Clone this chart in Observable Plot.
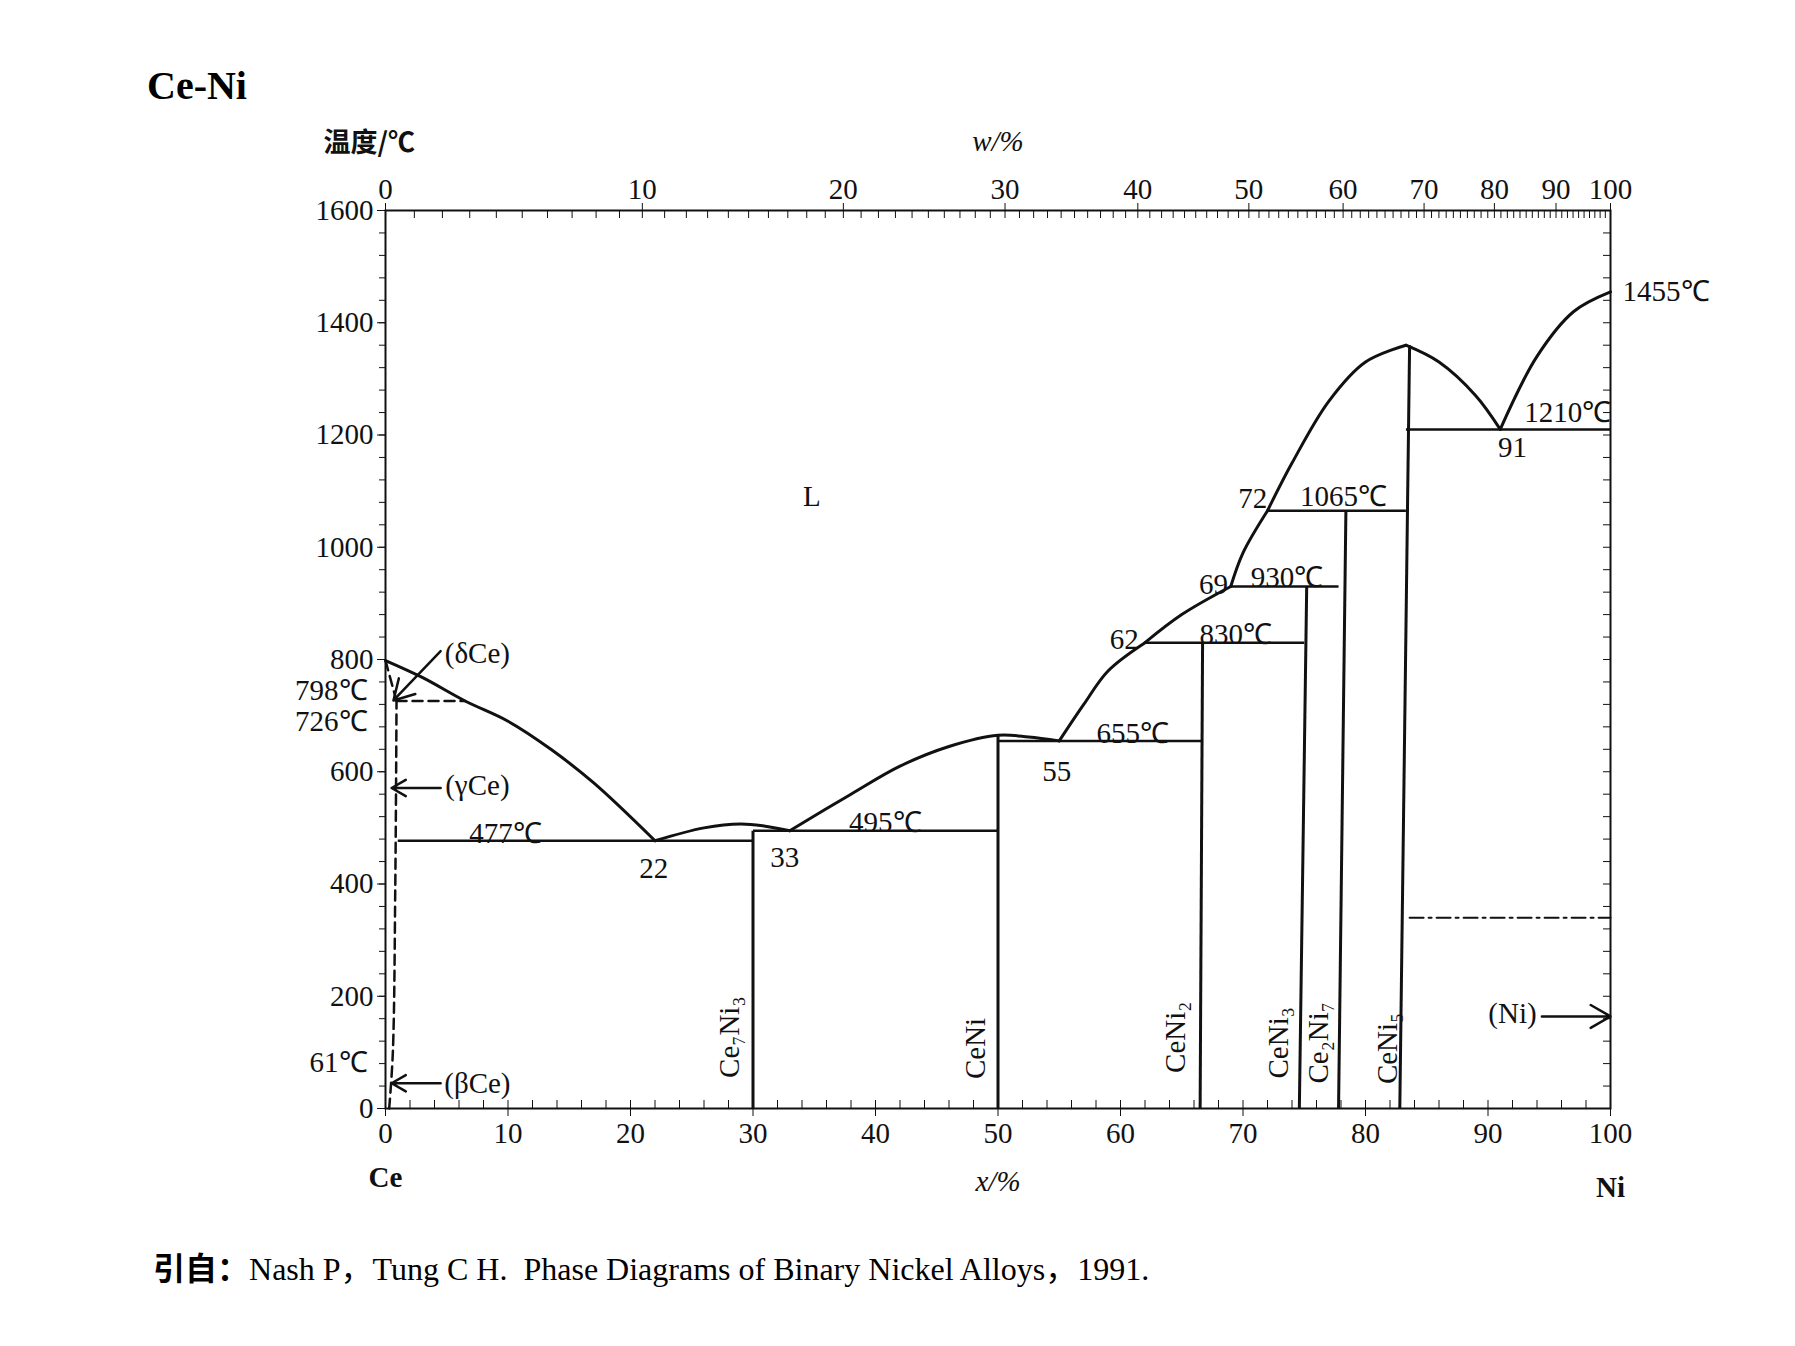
<!DOCTYPE html>
<html>
<head>
<meta charset="utf-8">
<script src="https://cdn.jsdelivr.net/npm/d3@7"></script>
<script src="https://cdn.jsdelivr.net/npm/@observablehq/plot@0.6"></script>
<style>
  body { margin: 0; background: #fff; font-family: "Liberation Serif", "Noto Sans CJK SC", serif; }
  #title { height: 110px; position: relative; }
  #title span { position: absolute; left: 147px; top: 62px; font-weight: bold; font-size: 40px; }
  #caption { position: relative; height: 80px; }
  #caption span { position: absolute; left: 153px; top: 25px; font-size: 32px; }
</style>
</head>
<body>
<div id="title"><span>Ce-Ni</span></div>
<div id="chart"></div>
<div id="caption"><span><b style="font-family:'Noto Sans CJK SC'">引自：</b>Nash P，Tung C H.&nbsp; Phase Diagrams of Binary Nickel Alloys，1991.</span></div>
<script>
/* liquidus, segment par segment (x at.% Ni, T °C) */
const liquidus = [
  [[0,798],[3,768],[6.5,726],[10,690],[13.5,640],[17,580],[22,477]],
  [[22,477],[26,500],[29,507],[31,503],[33,495]],
  [[33,495],[38,560],[42,610],[46,645],[50,665],[52.5,662],[55,655]],
  [[55,655],[57,720],[59,780],[62,830]],
  [[62,830],[65,880],[69,930]],
  [[69,930],[70,990],[72,1065]],
  [[72,1065],[74,1150],[77,1260],[80,1330],[83.3,1360]],
  [[83.3,1360],[86,1330],[89,1270],[91,1210]],
  [[91,1210],[94,1340],[97,1420],[100,1455]]
]
// horizontales : [x1, x2, T]
const isothermes = [[1,30,477],[30,50,495],[50,66.7,655],[62,75,830],[69,77.8,930],[72,83.3,1065],[83.3,100,1210]]
// composés : [x bas, x haut, T haut]
const composes = [[30,30,495],[50,50,665],[66.5,66.7,830],[74.6,75.2,930],[77.8,78.4,1065],[82.8,83.6,1360]]
const nomsComposes = ["Ce₇Ni₃","CeNi","CeNi₂","CeNi₃","Ce₂Ni₇","CeNi₅"]
const xNoms = [28.1,48.2,64.5,72.9,76.2,81.8]
const yNoms = [127,107,127,117,117,107]
const solvusCe = [[0,798],[0.9,726]]
const betaGamma = [[0.3,0],[0.6,100],[0.8,400],[0.9,726]]
const palier726 = [[0.9,726],[6.5,726]]
const magnetique = [[83.6,340],[100,340]]

const etiquettes = [
  {x:96.5,y:1240,t:"1210℃"},{x:92,y:1178,t:"91"},
  {x:70.8,y:1086,t:"72"},{x:78.2,y:1090,t:"1065℃"},
  {x:67.6,y:934,t:"69"},{x:73.6,y:946,t:"930℃"},
  {x:60.3,y:836,t:"62"},{x:69.4,y:844,t:"830℃"},
  {x:61,y:667,t:"655℃"},{x:54.8,y:600,t:"55"},
  {x:40.8,y:509,t:"495℃"},{x:32.6,y:446,t:"33"},
  {x:21.9,y:427,t:"22"},{x:9.8,y:489,t:"477℃"},
  {x:34.8,y:1090,t:"L"},
  {x:7.5,y:811,t:"(δCe)"},{x:7.5,y:575,t:"(γCe)"},{x:7.5,y:45,t:"(βCe)"},{x:92,y:168,t:"(Ni)"}
]
const etiquettesGauche = [{y:745,t:"798℃"},{y:690,t:"726℃"},{y:82,t:"61℃"}]
const fleches = [
  {x1:4.5,y1:815,x2:0.65,y2:727},{x1:4.5,y1:571,x2:0.5,y2:571},
  {x1:4.5,y1:45,x2:0.5,y2:45},{x1:94.4,y1:164,x2:100,y2:164}
]
const ticksT = [0,200,400,600,800,1000,1200,1400,1600]
const ticksX = [0,10,20,30,40,50,60,70,80,90,100]
const ticksW = [0,10,20,30,40,50,60,70,80,90,100]

// conversion w% -> x% (masses atomiques Ce 140.12, Ni 58.69)
const wToX = w => w >= 100 ? 100 : 100 * (w / 58.69) / (w / 58.69 + (100 - w) / 140.12)

const lignes = liquidus.flatMap((seg, i) => seg.map(([x, y]) => ({x, y, i})))
const font = "Liberation Serif"

const chart = Plot.plot({
  width: 1795, height: 1108,
  marginLeft: 385, marginRight: 185, marginTop: 100, marginBottom: 110,
  style: {fontFamily: font, fontSize: "29px", color: "#111"},
  x: {domain: [0, 100]},
  y: {domain: [0, 1600]},
  marks: [
    Plot.frame({strokeWidth: 2}),
    Plot.axisY({ticks: ticksT, tickFormat: "d", tickSize: 8, label: null, tickPadding: 4, fontSize: 29}),
    Plot.axisY({ticks: d3.range(0, 1601, 40), tickSize: 6, text: null}),
    Plot.axisY({anchor: "right", ticks: d3.range(0, 1601, 40), tickSize: -8, text: null}),
    Plot.axisX({ticks: ticksX, tickSize: 8, label: null, tickPadding: 6, fontSize: 29}),
    Plot.axisX({ticks: d3.range(0, 101, 2), tickSize: -8, text: null}),
    Plot.axisX({anchor: "top", ticks: ticksW.map(wToX), tickFormat: (d, i) => ticksW[i], tickSize: 8, label: null, tickPadding: 4, fontSize: 29}),
    Plot.axisX({anchor: "top", ticks: d3.range(0, 100, 1).map(wToX), tickSize: -7, text: null}),
    Plot.line(lignes, {x: "x", y: "y", z: "i", curve: "catmull-rom", strokeWidth: 3}),
    Plot.link(isothermes, {x1: d => d[0], x2: d => d[1], y1: d => d[2], y2: d => d[2], strokeWidth: 2.5}),
    Plot.link(composes, {x1: d => d[0], x2: d => d[1], y1: 0, y2: d => d[2], strokeWidth: 3}),
    Plot.line(solvusCe, {strokeWidth: 2.5, strokeDasharray: "10,6"}),
    Plot.line(betaGamma, {curve: "catmull-rom", strokeWidth: 2.5, strokeDasharray: "10,6"}),
    Plot.line(palier726, {strokeWidth: 2.5, strokeDasharray: "10,6"}),
    Plot.line(magnetique, {strokeWidth: 2, strokeDasharray: "14,5,3,5"}),
    Plot.arrow(fleches, {x1: "x1", y1: "y1", x2: "x2", y2: "y2", strokeWidth: 2.5, headLength: 16}),
    Plot.text(etiquettes, {x: "x", y: "y", text: "t", fontSize: 29}),
    Plot.text(etiquettesGauche, {x: 0, y: "y", text: "t", textAnchor: "end", dx: -18, fontSize: 29}),
    Plot.text(["1455℃"], {x: 100, y: 1455, textAnchor: "start", dx: 12, fontSize: 29}),
    Plot.text(nomsComposes, {x: (d, i) => xNoms[i], y: (d, i) => yNoms[i], text: d => d, rotate: -90, fontSize: 29}),
    Plot.text(["温度/℃"], {frameAnchor: "top-left", dx: -62, dy: -78, fontFamily: "Noto Sans CJK SC", fontWeight: "bold", fontSize: 27}),
    Plot.text(["w/%"], {x: 50, frameAnchor: "top", dy: -80, fontStyle: "italic", fontSize: 29}),
    Plot.text(["x/%"], {x: 50, frameAnchor: "bottom", dy: 82, fontStyle: "italic", fontSize: 29}),
    Plot.text(["Ce"], {x: 0, frameAnchor: "bottom", dy: 78, fontWeight: "bold", fontSize: 29}),
    Plot.text(["Ni"], {x: 100, frameAnchor: "bottom", dy: 88, fontWeight: "bold", fontSize: 29})
  ]
})

d3.select('#chart').append(() => chart)
</script>
</body>
</html>
